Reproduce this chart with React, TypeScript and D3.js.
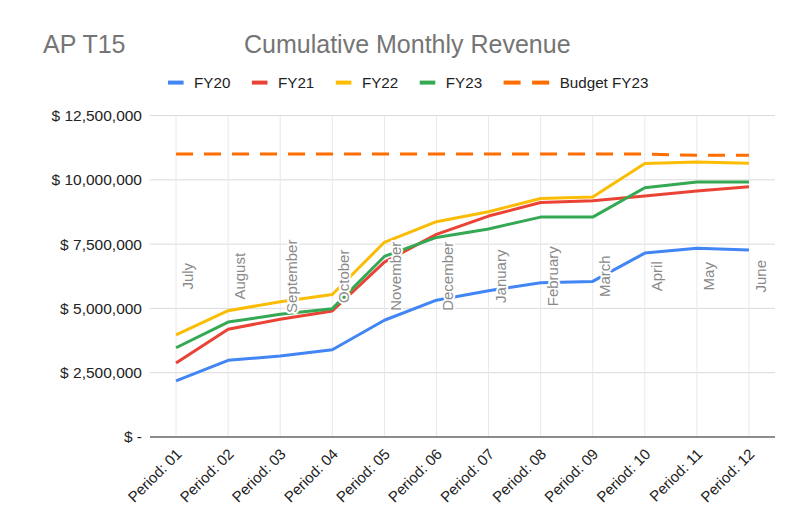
import React from "react";
import * as d3 from "d3";

const periods = ["Period: 01","Period: 02","Period: 03","Period: 04","Period: 05","Period: 06","Period: 07","Period: 08","Period: 09","Period: 10","Period: 11","Period: 12"];
const months = ["July","August","September","October","November","December","January","February","March","April","May","June"];
const fy20 = [2180000, 2980000, 3150000, 3390000, 4540000, 5320000, 5690000, 6000000, 6050000, 7150000, 7340000, 7270000];
const fy21 = [2880000, 4190000, 4580000, 4900000, 6800000, 7880000, 8590000, 9120000, 9190000, 9370000, 9560000, 9730000];
const fy22 = [3970000, 4910000, 5260000, 5540000, 7570000, 8370000, 8760000, 9270000, 9330000, 10630000, 10690000, 10640000];
const fy23 = [3470000, 4470000, 4770000, 4990000, 7020000, 7760000, 8090000, 8550000, 8550000, 9690000, 9910000, 9910000];
const budgetFY23 = [11000000, 11000000, 11000000, 11000000, 11000000, 11000000, 11000000, 11000000, 11000000, 11000000, 10950000, 10950000];
const yTicks = [0, 2500000, 5000000, 7500000, 10000000, 12500000];
const annotationLevel = 6250000;

const seriesNames = ["FY20", "FY21", "FY22", "FY23", "Budget FY23"];
const seriesColors = ["#4285F4", "#EA4335", "#FBBC04", "#34A853", "#FF6D01"];
const seriesData = [fy20, fy21, fy22, fy23, budgetFY23];

const FONT = "Arial, 'Liberation Sans', sans-serif";

function measure(text: string, size: number) {
  if (typeof document === "undefined") return text.length * size * 0.55;
  const c = document.createElement("canvas").getContext("2d");
  if (!c) return text.length * size * 0.55;
  c.font = `${size}px Arial, "Liberation Sans"`;
  return c.measureText(text).width;
}

export default function App() {
  const W = 792, H = 527;
  const x = d3.scalePoint<string>().domain(periods).range([150, 775]).padding(0.5);
  const y = d3.scaleLinear().domain([0, 12500000]).range([437, 115.5]);
  const line = d3.line<number>().x((_, i) => x(periods[i]) as number).y(d => y(d));
  const fmt = d3.format(",");

  let lx = 168;
  const legendItems = seriesNames.map((name, i) => {
    const dashed = i === 4;
    const sw = dashed ? 45.6 : 15.6;
    const item = { name, color: seriesColors[i], dashed, x: lx, sw };
    lx += sw + 10.5 + measure(name, 15.2) + 21.5;
    return item;
  });

  return (
    <svg width={W} height={H} style={{ position: "absolute", left: 0, top: 0, background: "#fff" }} fontFamily={FONT}>
      <rect width={W} height={H} fill="#fff" />
      <text x={43} y={52.5} fontSize={25} fill="#757575">AP T15</text>
      <text x={244} y={52.5} fontSize={25} fill="#757575">Cumulative Monthly Revenue</text>

      {legendItems.map(it => (
        <g key={it.name}>
          {it.dashed ? (
            <>
              <line x1={it.x} x2={it.x + 17} y1={82.6} y2={82.6} stroke={it.color} strokeWidth={4} />
              <line x1={it.x + 28.5} x2={it.x + 45.6} y1={82.6} y2={82.6} stroke={it.color} strokeWidth={4} />
            </>
          ) : (
            <line x1={it.x} x2={it.x + it.sw} y1={82.6} y2={82.6} stroke={it.color} strokeWidth={4} />
          )}
          <text x={it.x + it.sw + 10.5} y={87.5} fontSize={15.2} fill="#222">{it.name}</text>
        </g>
      ))}

      {yTicks.filter(t => t > 0).map(t => (
        <line key={t} x1={150} x2={775} y1={y(t)} y2={y(t)} stroke="#dadada" strokeWidth={1} />
      ))}
      {periods.map(p => (
        <line key={p} x1={x(p)} x2={x(p)} y1={y(12500000)} y2={y(0)} stroke="#e8e8e8" strokeWidth={1} />
      ))}
      {yTicks.map(t => (
        <text key={t} x={142} y={y(t)} dy="0.35em" textAnchor="end" fontSize={15.5} fill="#222">
          {t === 0 ? "$ -" : "$ " + fmt(t)}
        </text>
      ))}

      {seriesData.map((d, i) => (
        <path key={i} d={line(d) || ""} fill="none" stroke={seriesColors[i]} strokeWidth={3}
          strokeDasharray={i === 4 ? "17 11" : undefined} strokeLinejoin="round" />
      ))}

      <line x1={150} x2={775} y1={y(0)} y2={y(0)} stroke="#666" strokeWidth={1.5} />

      {months.map((m, i) => (
        <text key={m} transform={`translate(${(x(periods[i]) as number) + 17},${y(annotationLevel)}) rotate(-90)`}
          textAnchor="middle" fontSize={15} fill="#8a8a8a" stroke="#fff" strokeWidth={4}
          paintOrder="stroke" strokeLinejoin="round">{m}</text>
      ))}

      {periods.map(p => (
        <text key={p} transform={`translate(${(x(p) as number) + 6.5},455) rotate(-45)`}
          textAnchor="end" fontSize={15} fill="#222">{p}</text>
      ))}
    </svg>
  );
}
